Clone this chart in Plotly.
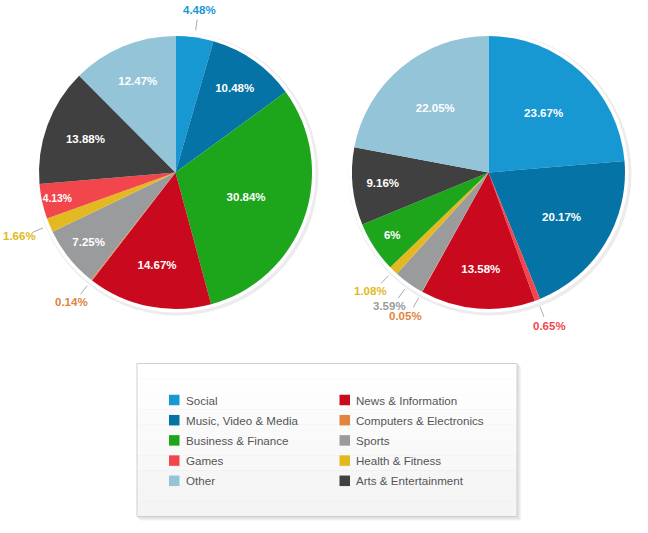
import math
import plotly.graph_objects as go

# ---------------- data ----------------
categories = ["Social", "News & Information", "Music, Video & Media", "Computers & Electronics",
              "Business & Finance", "Sports", "Games", "Health & Fitness", "Other",
              "Arts & Entertainment"]  # legend order (row-major, 2 columns)

colors = {
    "Social": "#1798d3",
    "Music, Video & Media": "#0573a5",
    "Business & Finance": "#1da51c",
    "News & Information": "#c90a1e",
    "Computers & Electronics": "#e0843e",
    "Sports": "#9a9b9d",
    "Games": "#f2464c",
    "Health & Fitness": "#e3b921",
    "Other": "#93c4d8",
    "Arts & Entertainment": "#404040",
}

left_labels = ["Social", "Music, Video & Media", "Business & Finance", "News & Information",
               "Computers & Electronics", "Sports", "Health & Fitness", "Games",
               "Arts & Entertainment", "Other"]
left_values = [4.48, 10.48, 30.84, 14.67, 0.14, 7.25, 1.66, 4.13, 13.88, 12.47]
left_outside = ["Social", "Computers & Electronics", "Health & Fitness"]

right_labels = ["Social", "Music, Video & Media", "Games", "News & Information",
                "Computers & Electronics", "Sports", "Health & Fitness", "Business & Finance",
                "Arts & Entertainment", "Other"]
right_values = [23.67, 20.17, 0.65, 13.58, 0.05, 3.59, 1.08, 6, 9.16, 22.05]
right_outside = ["Games", "Computers & Electronics", "Sports", "Health & Fitness"]

# ---------------- layout geometry (pixels) ----------------
W, H = 648, 533
R = 136.5
pies = [
    dict(labels=left_labels, values=left_values, outside=left_outside, cx=175.5, cy=172.5),
    dict(labels=right_labels, values=right_values, outside=right_outside, cx=488.5, cy=172.5),
]


def X(px):
    return px / W


def Y(py):
    return 1 - py / H


FONT = "Liberation Sans, Arial, Helvetica, sans-serif"

fig = go.Figure()
shapes = []
annotations = []

for p in pies:
    cx, cy = p["cx"], p["cy"]
    texts = [("" if lab in p["outside"] else f"{v:g}%") for lab, v in zip(p["labels"], p["values"])]
    fig.add_trace(go.Pie(
        labels=p["labels"], values=p["values"],
        sort=False, direction="clockwise", rotation=0,
        marker=dict(colors=[colors[l] for l in p["labels"]], line=dict(width=0)),
        text=texts, textinfo="text", textposition="inside",
        insidetextorientation="horizontal",
        textfont=dict(color="white", size=11.5, family=FONT, weight="bold"),
        domain=dict(x=[X(cx - R), X(cx + R)], y=[Y(cy + R), Y(cy - R)]),
        showlegend=False, hoverinfo="label+percent",
    ))
    # pie shadow + white rim
    shapes.append(dict(type="circle", xref="paper", yref="paper", layer="below",
                       x0=X(cx - R - 5 + 1.5), x1=X(cx + R + 5 + 1.5),
                       y0=Y(cy + R + 5 + 1.5), y1=Y(cy - R - 5 + 1.5),
                       fillcolor="#ececec", line=dict(width=0)))
    shapes.append(dict(type="circle", xref="paper", yref="paper", layer="below",
                       x0=X(cx - R - 3.5), x1=X(cx + R + 3.5),
                       y0=Y(cy + R + 3.5), y1=Y(cy - R - 3.5),
                       fillcolor="white", line=dict(width=0)))
    # outside labels with connectors
    total = sum(p["values"])
    cum = 0.0
    for lab, v in zip(p["labels"], p["values"]):
        mid = (cum + v / 2) / total * 2 * math.pi
        cum += v
        if lab not in p["outside"]:
            continue
        s, c = math.sin(mid), math.cos(mid)
        r0, r1, rt = R + 7, R + 18, R + 28
        shapes.append(dict(type="line", xref="paper", yref="paper",
                           x0=X(cx + r0 * s), y0=Y(cy - r0 * c),
                           x1=X(cx + r1 * s), y1=Y(cy - r1 * c),
                           line=dict(color="#aaaaaa", width=1)))
        annotations.append(dict(xref="paper", yref="paper",
                                x=X(cx + rt * s + 5 * s), y=Y(cy - rt * c),
                                text=f"<b>{v:g}%</b>", showarrow=False,
                                xanchor="center", yanchor="middle",
                                font=dict(color=colors[lab], size=11.5, family=FONT)))

# ---------------- legend box ----------------
bx0, bx1, by0, by1 = 137, 517, 363.5, 516.5
for off, col in [(4, "#f3f3f3"), (3, "#ebebeb"), (2, "#e2e2e2")]:
    shapes.append(dict(type="rect", xref="paper", yref="paper", layer="below",
                       x0=X(bx0 + off - 1), x1=X(bx1 + off), y0=Y(by1 + off), y1=Y(by0 + off - 1),
                       fillcolor=col, line=dict(width=0)))
nb = 10
for i in range(nb):
    t = i / (nb - 1)
    g = int(round(255 - 11 * t))
    shapes.append(dict(type="rect", xref="paper", yref="paper", layer="below",
                       x0=X(bx0), x1=X(bx1),
                       y0=Y(by0 + (by1 - by0) * (i + 1) / nb), y1=Y(by0 + (by1 - by0) * i / nb),
                       fillcolor=f"rgb({g},{g},{g})", line=dict(width=0)))
shapes.append(dict(type="rect", xref="paper", yref="paper", layer="below",
                   x0=X(bx0), x1=X(bx1), y0=Y(by1), y1=Y(by0),
                   fillcolor="rgba(0,0,0,0)", line=dict(color="#cfcfcf", width=1)))

col_x = [169, 339.5]
row_y0, row_dy = 400, 20.2
for i, cat in enumerate(categories):
    col, row = i % 2, i // 2
    sx, sy = col_x[col], row_y0 + row * row_dy
    shapes.append(dict(type="rect", xref="paper", yref="paper",
                       x0=X(sx), x1=X(sx + 10.5), y0=Y(sy + 5.25), y1=Y(sy - 5.25),
                       fillcolor=colors[cat], line=dict(width=0)))
    annotations.append(dict(xref="paper", yref="paper", x=X(sx + 14.5), y=Y(sy),
                            text=cat, showarrow=False, xanchor="left", yanchor="middle",
                            font=dict(color="#555555", size=11.6, family=FONT)))

fig.update_layout(
    width=W, height=H, margin=dict(l=0, r=0, t=0, b=0),
    paper_bgcolor="white", plot_bgcolor="white",
    shapes=shapes, annotations=annotations, showlegend=False,
    font=dict(family=FONT),
)

fig.write_html("out.html", config=dict(displayModeBar=False),
               post_script="document.body.style.margin='0';document.body.style.overflow='hidden';")
